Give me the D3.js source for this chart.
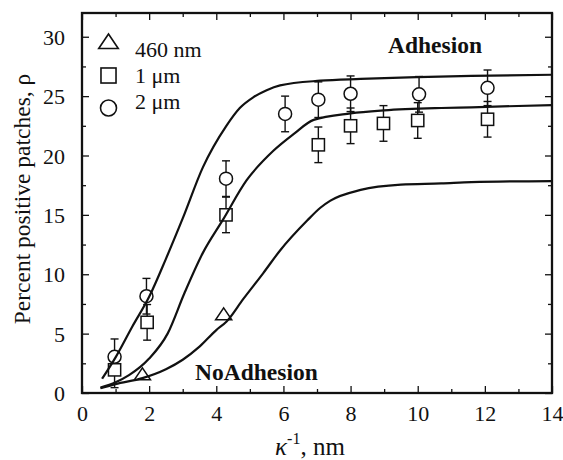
<!DOCTYPE html>
<html>
<head>
<meta charset="utf-8">
<script src="https://cdn.jsdelivr.net/npm/d3@7"></script>
<style>
  body { margin: 0; background: #fff; }
  svg { display: block; }
  svg text { font-family: "Liberation Serif", "Times New Roman", Times, "DejaVu Serif", serif; fill: #111; }
</style>
</head>
<body>
<svg id="chart" width="563" height="460"></svg>
<script>
// ---- data -------------------------------------------------------------
const xTickValues = [0, 2, 4, 6, 8, 10, 12, 14];
const yTickValues = [0, 5, 10, 15, 20, 25, 30];

const seriesNames = ["460 nm", "1 \u03bcm", "2 \u03bcm"];

// 460 nm particles (no error bars)
const x460 = [1.8, 4.22];
const y460 = [1.5, 6.55];

// 1 um particles
const x1um = [0.97, 1.94, 4.29, 7.04, 8.0, 8.98, 10.0, 12.08];
const y1um = [1.95, 5.95, 15.0, 20.9, 22.5, 22.7, 22.95, 23.05];
const e1um = [1.5, 1.5, 1.5, 1.5, 1.5, 1.5, 1.5, 1.5];

// 2 um particles
const x2um = [0.97, 1.92, 4.29, 6.05, 7.04, 8.0, 10.04, 12.08];
const y2um = [3.05, 8.15, 18.05, 23.5, 24.7, 25.2, 25.15, 25.7];
const e2um = [1.5, 1.5, 1.5, 1.5, 1.5, 1.5, 1.5, 1.5];

// model curves
const fitX460 = [0.55, 1.0, 1.8, 2.5, 3.0, 3.5, 4.0, 4.3, 4.8, 5.4, 5.9, 6.7, 7.1, 7.4, 8.3, 9.5, 10.7, 11.6, 14];
const fitY460 = [0.4, 0.75, 1.25, 2.0, 2.8, 3.9, 5.3, 6.0, 7.9, 10.1, 12.0, 14.5, 15.6, 16.2, 17.1, 17.55, 17.65, 17.76, 17.85];

const fitX1um = [0.55, 1.0, 1.4, 2.0, 2.55, 3.05, 3.6, 4.2, 4.9, 5.7, 6.3, 6.9, 8.0, 9.0, 10.7, 11.6, 14];
const fitY1um = [0.45, 0.9, 1.5, 2.9, 5.0, 8.4, 11.8, 14.6, 17.9, 20.4, 21.8, 23.0, 23.55, 23.8, 24.0, 24.06, 24.25];

const fitX2um = [0.6, 1.0, 1.5, 2.0, 2.5, 3.0, 3.6, 4.3, 4.7, 5.1, 5.5, 5.9, 7.1, 8.3, 10.0, 11.6, 14];
const fitY2um = [1.2, 3.0, 5.6, 8.1, 11.3, 14.7, 19.0, 22.5, 24.0, 24.9, 25.5, 25.9, 26.3, 26.45, 26.6, 26.7, 26.8];

// ---- layout -----------------------------------------------------------
const svg = d3.select("#chart");
const plotL = 82, plotR = 552, plotT = 13, plotB = 393;
const serif = '"Liberation Serif", "Times New Roman", Times, "DejaVu Serif", serif';

const x = d3.scaleLinear().domain([0, 14]).range([plotL, plotR]);
const y = d3.scaleLinear().domain([0, 32]).range([plotB, plotT]);

const ink = "#111";

// ---- ticks (inward, on all four sides) --------------------------------
const xMinor = d3.range(1, 14, 2);
const yMinor = d3.range(2.5, 32, 5);

function styleTicks(g) {
  g.attr("font-family", serif);
  g.select(".domain").remove();
  g.selectAll("line").attr("stroke", ink).attr("stroke-width", 1.3);
}

svg.append("g").attr("transform", `translate(0,${plotB})`)
  .call(d3.axisBottom(x).tickValues(xTickValues).tickSize(-7).tickPadding(14)
    .tickFormat(d3.format("d")))
  .call(styleTicks)
  .call(g => g.selectAll("text").attr("font-size", 22).attr("fill", ink)
    .attr("dy", "0.62em"));
svg.append("g").attr("transform", `translate(0,${plotB})`)
  .call(d3.axisBottom(x).tickValues(xMinor).tickSize(-4).tickFormat(""))
  .call(styleTicks);

svg.append("g").attr("transform", `translate(0,${plotT})`)
  .call(d3.axisTop(x).tickValues(xTickValues).tickSize(-7).tickFormat(""))
  .call(styleTicks);
svg.append("g").attr("transform", `translate(0,${plotT})`)
  .call(d3.axisTop(x).tickValues(xMinor).tickSize(-4).tickFormat(""))
  .call(styleTicks);

svg.append("g").attr("transform", `translate(${plotL},0)`)
  .call(d3.axisLeft(y).tickValues(yTickValues).tickSize(-7).tickPadding(17))
  .call(styleTicks)
  .call(g => g.selectAll("text").attr("font-size", 22).attr("fill", ink)
    .attr("dy", "0.35em"));
svg.append("g").attr("transform", `translate(${plotL},0)`)
  .call(d3.axisLeft(y).tickValues(yMinor).tickSize(-4).tickFormat(""))
  .call(styleTicks);

svg.append("g").attr("transform", `translate(${plotR},0)`)
  .call(d3.axisRight(y).tickValues(yTickValues).tickSize(-7).tickFormat(""))
  .call(styleTicks);
svg.append("g").attr("transform", `translate(${plotR},0)`)
  .call(d3.axisRight(y).tickValues(yMinor).tickSize(-4).tickFormat(""))
  .call(styleTicks);

// ---- error bars -------------------------------------------------------
const errSets = [
  { xs: x1um, ys: y1um, es: e1um },
  { xs: x2um, ys: y2um, es: e2um }
];
const errG = svg.append("g").attr("stroke", ink).attr("stroke-width", 1.4).attr("fill", "none");
errSets.forEach(s => {
  s.xs.forEach((xv, i) => {
    const cx = x(xv), y1 = y(s.ys[i] - s.es[i]), y2 = y(s.ys[i] + s.es[i]);
    errG.append("line").attr("x1", cx).attr("x2", cx).attr("y1", y1).attr("y2", y2);
    errG.append("line").attr("x1", cx - 4).attr("x2", cx + 4).attr("y1", y1).attr("y2", y1);
    errG.append("line").attr("x1", cx - 4).attr("x2", cx + 4).attr("y1", y2).attr("y2", y2);
  });
});

// ---- markers ----------------------------------------------------------
function drawMarker(g, kind, cx, cy, s) {
  if (kind === "circle") {
    g.append("circle").attr("cx", cx).attr("cy", cy).attr("r", s * 0.5);
  } else if (kind === "square") {
    g.append("rect").attr("x", cx - s * 0.47).attr("y", cy - s * 0.47)
      .attr("width", s * 0.94).attr("height", s * 0.94);
  } else {
    const h = s * 0.85, w = s * 1.15;
    g.append("path").attr("d",
      `M${cx},${cy - h * 0.62}L${cx + w / 2},${cy + h * 0.38}L${cx - w / 2},${cy + h * 0.38}Z`);
  }
}

const markG = svg.append("g").attr("fill", "#fff").attr("stroke", ink).attr("stroke-width", 1.5);
x460.forEach((xv, i) => drawMarker(markG, "triangle", x(xv), y(y460[i]), 14));
x1um.forEach((xv, i) => drawMarker(markG, "square", x(xv), y(y1um[i]), 13));
x2um.forEach((xv, i) => drawMarker(markG, "circle", x(xv), y(y2um[i]), 13));

// ---- model curves -----------------------------------------------------
const line = d3.line().x(d => x(d[0])).y(d => y(d[1])).curve(d3.curveMonotoneX);
[[fitX460, fitY460], [fitX1um, fitY1um], [fitX2um, fitY2um]].forEach(([xs, ys]) => {
  svg.append("path")
    .attr("d", line(xs.map((v, i) => [v, ys[i]])))
    .attr("fill", "none").attr("stroke", ink).attr("stroke-width", 2.2)
    .attr("stroke-linejoin", "round");
});

// ---- frame ------------------------------------------------------------
svg.append("rect").attr("x", plotL).attr("y", plotT)
  .attr("width", plotR - plotL).attr("height", plotB - plotT)
  .attr("fill", "none").attr("stroke", ink).attr("stroke-width", 2.3);

// ---- legend -----------------------------------------------------------
const legKinds = ["triangle", "square", "circle"];
const legG = svg.append("g").attr("font-family", serif);
seriesNames.forEach((name, i) => {
  const mg = legG.append("g").attr("fill", "#fff").attr("stroke", ink).attr("stroke-width", 1.6);
  drawMarker(mg, legKinds[i], 108.5, 43 + i * 32.5, legKinds[i] === "triangle" ? 17 : 16);
  legG.append("text").attr("x", 135).attr("y", 57 + i * 26)
    .attr("font-size", 22).text(name);
});

// ---- annotations ------------------------------------------------------
svg.append("text").attr("x", 388).attr("y", 53).attr("font-size", 23.5)
  .attr("font-family", serif).attr("font-weight", "bold").text("Adhesion");
svg.append("text").attr("x", 195).attr("y", 380).attr("font-size", 23.5)
  .attr("font-family", serif).attr("font-weight", "bold").text("NoAdhesion");

// ---- axis titles ------------------------------------------------------
const xt = svg.append("text").attr("x", 310).attr("y", 455)
  .attr("text-anchor", "middle").attr("font-size", 25).attr("font-family", serif);
xt.append("tspan").attr("font-style", "italic").text("\u03ba");
xt.append("tspan").attr("font-size", 16).attr("dy", -11).text("-1");
xt.append("tspan").attr("dy", 11).text(", nm");

svg.append("text")
  .attr("transform", "translate(30,199) rotate(-90)")
  .attr("text-anchor", "middle").attr("font-size", 23.5).attr("font-family", serif)
  .text("Percent positive patches, \u03c1");
</script>
</body>
</html>
